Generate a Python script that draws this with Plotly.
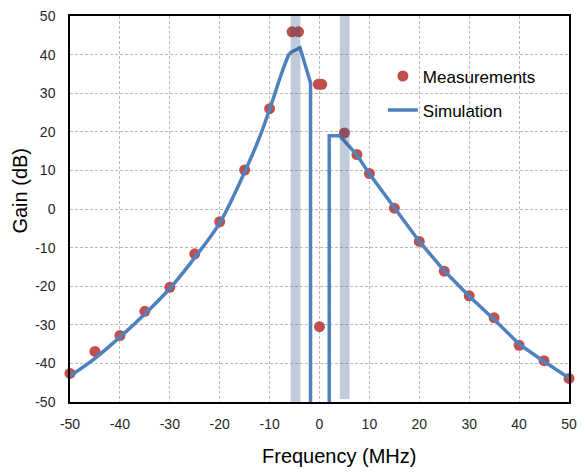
import plotly.graph_objects as go

# Measured gain points (MHz, dB)
meas_freq = [-50, -45, -40, -35, -30, -25, -20, -15, -10, -5.5, -4.2,
             -0.25, 0.45, 0, 5, 7.5, 10, 15, 20, 25, 30, 35, 40, 45, 50]
meas_gain = [-42.6, -36.9, -32.8, -26.5, -20.3, -11.6, -3.3, 10.1, 26.0, 45.9, 45.9,
             32.3, 32.3, -30.5, 19.7, 14.1, 9.2, 0.2, -8.4, -16.1, -22.5, -28.2, -35.3, -39.3, -43.9]

# Simulated response: smooth lower sideband, peak/notch section, upper sideband
sim_low_freq = [-50, -45, -40, -35, -30, -25, -20, -15, -12, -10, -8, -7, -6]
sim_low_gain = [-43.3, -38.7, -33.2, -27.2, -20.6, -12.6, -3.6, 9.6, 18.6, 25.8, 33.6, 37.3, 40.4]
sim_mid_freq = [-6, -3.9, -1.8, -1.8]
sim_mid_gain = [40.4, 41.8, 32.7, -50]
sim_up_freq = [1.95, 1.95, 4.05, 7.5, 10, 15, 20, 25, 30, 35, 40, 45, 50]
sim_up_gain = [-50, 19.0, 19.0, 14.0, 9.1, 0.2, -8.4, -16.0, -22.6, -28.6, -35.0, -39.5, -43.8]

# Shaded pump bands
band_center = [-4.8, 5.05]
band_width = [1.95, 1.95]
band_low = [-50, -49.2]
band_high = [50, 50.6]

tick_vals_x = list(range(-50, 51, 10))
tick_vals_y = list(range(-50, 51, 10))
tick_text_x = [str(v) for v in tick_vals_x]
tick_text_y = [str(v) for v in tick_vals_y]

RED = "#C0504D"
BLUE = "#4F81BD"
FONT = "Liberation Sans, Arial, sans-serif"

fig = go.Figure()

fig.add_trace(go.Scatter(
    x=meas_freq, y=meas_gain, mode="markers", name="Measurements",
    marker=dict(color=RED, size=11), cliponaxis=False, legendgroup="m",
))
fig.add_trace(go.Scatter(
    x=sim_low_freq, y=sim_low_gain, mode="lines", name="Simulation",
    line=dict(color=BLUE, width=3.5, shape="spline", smoothing=1.0),
    legendgroup="s", showlegend=True,
))
fig.add_trace(go.Scatter(
    x=sim_mid_freq, y=sim_mid_gain, mode="lines", name="Simulation",
    line=dict(color=BLUE, width=3.5), legendgroup="s", showlegend=False,
))
fig.add_trace(go.Scatter(
    x=sim_up_freq, y=sim_up_gain, mode="lines", name="Simulation",
    line=dict(color=BLUE, width=3.5), legendgroup="s", showlegend=False,
))

for c, w, lo, hi in zip(band_center, band_width, band_low, band_high):
    fig.add_shape(type="rect", xref="x", yref="y",
                  x0=c - w / 2, x1=c + w / 2, y0=lo, y1=hi,
                  fillcolor="rgba(31,73,125,0.28)", line=dict(width=0),
                  layer="above")

axis_common = dict(
    showline=True, linecolor="black", linewidth=1.5, mirror=True,
    showgrid=True, gridcolor="#BBBBBB", gridwidth=1, griddash="3px,2px",
    zeroline=False, ticks="", tickfont=dict(family=FONT, size=14, color="#262626"),
)

fig.update_xaxes(range=[-50, 50], tickvals=tick_vals_x, ticktext=tick_text_x,
                 ticklabelstandoff=8, **axis_common)
fig.update_yaxes(range=[-50, 50], tickvals=tick_vals_y, ticktext=tick_text_y,
                 ticklabelstandoff=10, **axis_common)

fig.add_annotation(text="Frequency (MHz)", xref="paper", yref="paper",
                   x=0.539, y=-0.14, xanchor="center", yanchor="middle",
                   showarrow=False, font=dict(family=FONT, size=20, color="black"))
fig.add_annotation(text="Gain (dB)", xref="paper", yref="paper",
                   x=-0.1, y=0.548, xanchor="center", yanchor="middle", textangle=-90,
                   showarrow=False, font=dict(family=FONT, size=20, color="black"))

fig.update_layout(
    width=585, height=472,
    margin=dict(l=70, r=8, t=12, b=70),
    paper_bgcolor="white", plot_bgcolor="white",
    showlegend=True,
    legend=dict(x=0.627, y=0.89, xanchor="left", yanchor="top",
                bgcolor="rgba(0,0,0,0)", font=dict(family=FONT, size=17, color="black"),
                traceorder="grouped", tracegroupgap=9, itemwidth=30),
)

fig.write_html("out.html")
